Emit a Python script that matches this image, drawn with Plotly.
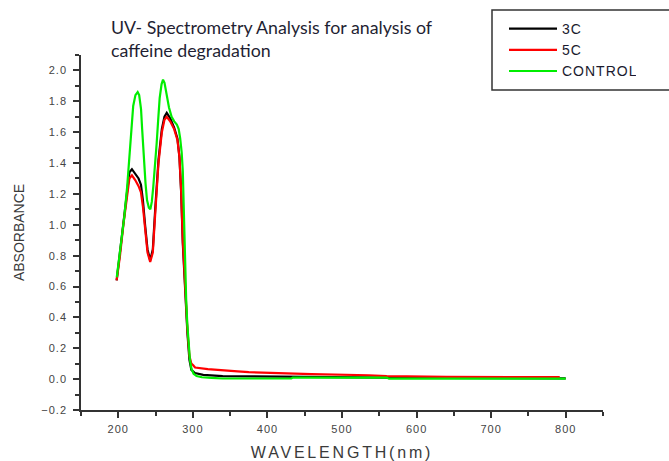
import plotly.graph_objects as go

# ---- data ----
wl_3c = [197.8, 202.3, 206.8, 211.3, 214.9, 218.3, 222.7, 227.2, 230.4, 233.0, 236.1, 239.2,
         242.8, 246.3, 249.5, 253.9, 258.4, 261.9, 265.0, 269.6, 274.9, 279.3, 282.0, 284.3,
         286.5, 289.6, 292.7, 295.4, 298.0, 302.8, 313.9, 340.0, 432.0, 560.0, 800.0]
abs_3c = [0.64, 0.82, 1.03, 1.21, 1.34, 1.36, 1.33, 1.30, 1.26, 1.16, 0.99, 0.84,
          0.77, 0.84, 1.10, 1.42, 1.62, 1.70, 1.725, 1.69, 1.63, 1.56, 1.44, 1.21,
          0.88, 0.56, 0.30, 0.125, 0.06, 0.04, 0.028, 0.02, 0.015, 0.01, 0.005]

wl_5c = [197.8, 202.3, 206.8, 211.3, 214.9, 218.3, 222.7, 227.2, 230.4, 233.0, 236.1, 239.2,
         242.8, 246.3, 249.5, 253.9, 258.4, 261.9, 265.0, 269.6, 274.9, 279.3, 282.0, 284.3,
         286.5, 289.6, 292.7, 295.4, 298.0, 300.5, 303.0, 320.0, 335.0, 360.0, 375.0, 416.0,
         459.0, 536.0, 560.0, 640.0, 792.0]
abs_5c = [0.64, 0.80, 1.00, 1.18, 1.30, 1.32, 1.29, 1.25, 1.21, 1.12, 0.96, 0.82,
          0.76, 0.82, 1.07, 1.40, 1.60, 1.68, 1.70, 1.67, 1.62, 1.55, 1.44, 1.22,
          0.90, 0.58, 0.32, 0.15, 0.10, 0.09, 0.075, 0.065, 0.058, 0.05, 0.045, 0.038,
          0.032, 0.025, 0.02, 0.015, 0.013]

wl_ctrl = [198.0, 201.0, 205.0, 208.0, 212.0, 216.0, 220.0, 223.0, 226.0, 228.0, 230.5, 232.0,
           234.0, 236.5, 238.5, 241.0, 243.0, 245.0, 247.0, 249.5, 251.5, 253.5, 255.5, 258.0,
           260.0, 262.0, 265.0, 268.0, 271.5, 275.0, 278.5, 281.0, 283.0, 285.0, 286.5, 288.0,
           289.5, 291.0, 292.5, 294.0, 296.0, 298.0, 301.0, 305.0, 312.0, 325.0, 340.0, 432.0,
           434.0, 560.0, 563.0, 800.0]
abs_ctrl = [0.66, 0.77, 0.92, 1.05, 1.25, 1.53, 1.77, 1.84, 1.86, 1.84, 1.75, 1.62,
            1.42, 1.27, 1.16, 1.11, 1.10, 1.15, 1.25, 1.38, 1.53, 1.68, 1.82, 1.91,
            1.94, 1.92, 1.83, 1.76, 1.70, 1.67, 1.65, 1.62, 1.56, 1.47, 1.35, 1.02,
            0.75, 0.52, 0.36, 0.23, 0.13, 0.07, 0.035, 0.02, 0.012, 0.008, 0.004, 0.004,
            0.01, 0.01, 0.003, 0.003]

series_names = ["3C", "5C", "CONTROL"]
series_colors = ["#000000", "#ff0000", "#00ee00"]

x_tickvals = [200, 300, 400, 500, 600, 700, 800]
y_tickvals = [-0.2, 0.0, 0.2, 0.4, 0.6, 0.8, 1.0, 1.2, 1.4, 1.6, 1.8, 2.0]

title_text = "UV- Spectrometry Analysis for analysis of<br>caffeine degradation"
x_title = "WAVELENGTH(nm)"
y_title = "ABSORBANCE"

# ---- figure ----
W, H = 669, 461
ML, MR, MT, MB = 81, 66, 55, 51
PW, PH = W - ML - MR, H - MT - MB


def px2paper_x(px):
    return (px - ML) / PW


def px2paper_y(py):
    return (H - MB - py) / PH


fig = go.Figure()
for wl, ab, name, col in zip([wl_3c, wl_5c, wl_ctrl], [abs_3c, abs_5c, abs_ctrl],
                             series_names, series_colors):
    fig.add_trace(go.Scatter(x=wl, y=ab, name=name, mode="lines",
                             line=dict(color=col, width=2.2)))

axis_font = dict(family="Liberation Sans, Arial, sans-serif", size=11, color="#444444")

fig.update_layout(
    width=W, height=H,
    margin=dict(l=ML, r=MR, t=MT, b=MB, autoexpand=False),
    paper_bgcolor="white", plot_bgcolor="white",
    showlegend=True,
    legend=dict(x=px2paper_x(504), y=px2paper_y(13), xanchor="left", yanchor="top",
                bgcolor="rgba(0,0,0,0)", borderwidth=0,
                font=dict(family="Liberation Sans, Arial, sans-serif", size=14, color="#1a1a2e"),
                itemwidth=48, tracegroupgap=0),
    xaxis=dict(range=[150, 850], showgrid=False, zeroline=False,
               showline=True, linecolor="#333333", linewidth=1.5,
               ticks="outside", ticklen=6, tickwidth=1.5, tickcolor="#333333",
               tickvals=x_tickvals, tickfont=axis_font, ticklabelstandoff=2,
               minor=dict(tick0=150, dtick=50, ticks="outside", ticklen=4,
                          tickwidth=1.5, tickcolor="#333333", showgrid=False),
               title=dict(text=x_title, standoff=14,
                          font=dict(family="Liberation Sans, Arial, sans-serif", size=16,
                                    color="#3a3a3a"))),
    yaxis=dict(range=[-0.2, 2.1], showgrid=False, zeroline=False,
               showline=True, linecolor="#333333", linewidth=1.5,
               ticks="outside", ticklen=6, tickwidth=1.5, tickcolor="#333333",
               tickvals=y_tickvals, tickformat=".1f", tickfont=axis_font, ticklabelstandoff=4,
               minor=dict(tick0=0, dtick=0.1, ticks="outside", ticklen=4,
                          tickwidth=1.5, tickcolor="#333333", showgrid=False),
               title=dict(text=y_title, standoff=17,
                          font=dict(family="Liberation Sans, Arial, sans-serif", size=14,
                                    color="#3a3a3a"))),
    shapes=[dict(type="rect", xref="paper", yref="paper",
                 x0=px2paper_x(492), x1=px2paper_x(680),
                 y0=px2paper_y(90), y1=px2paper_y(10),
                 line=dict(color="#333333", width=1.5), fillcolor="rgba(0,0,0,0)")],
    annotations=[dict(text=title_text, xref="paper", yref="paper",
                      x=px2paper_x(109), y=px2paper_y(14), xanchor="left", yanchor="top",
                      align="left", showarrow=False,
                      font=dict(family="Lato, Open Sans, sans-serif", size=17.8, color="#1f1f33"))],
)

css = ("document.body.style.margin='0';document.body.style.padding='0';"
       "var s=document.createElement('style');"
       "s.innerHTML='body{margin:0;padding:0}.xtick text,.ytick text{letter-spacing:1px}"
       ".xtitle{letter-spacing:2.8px}.legendtext{letter-spacing:1px}';"
       "document.head.appendChild(s);")

fig.write_html("out.html", post_script=css, config={"displayModeBar": False})
